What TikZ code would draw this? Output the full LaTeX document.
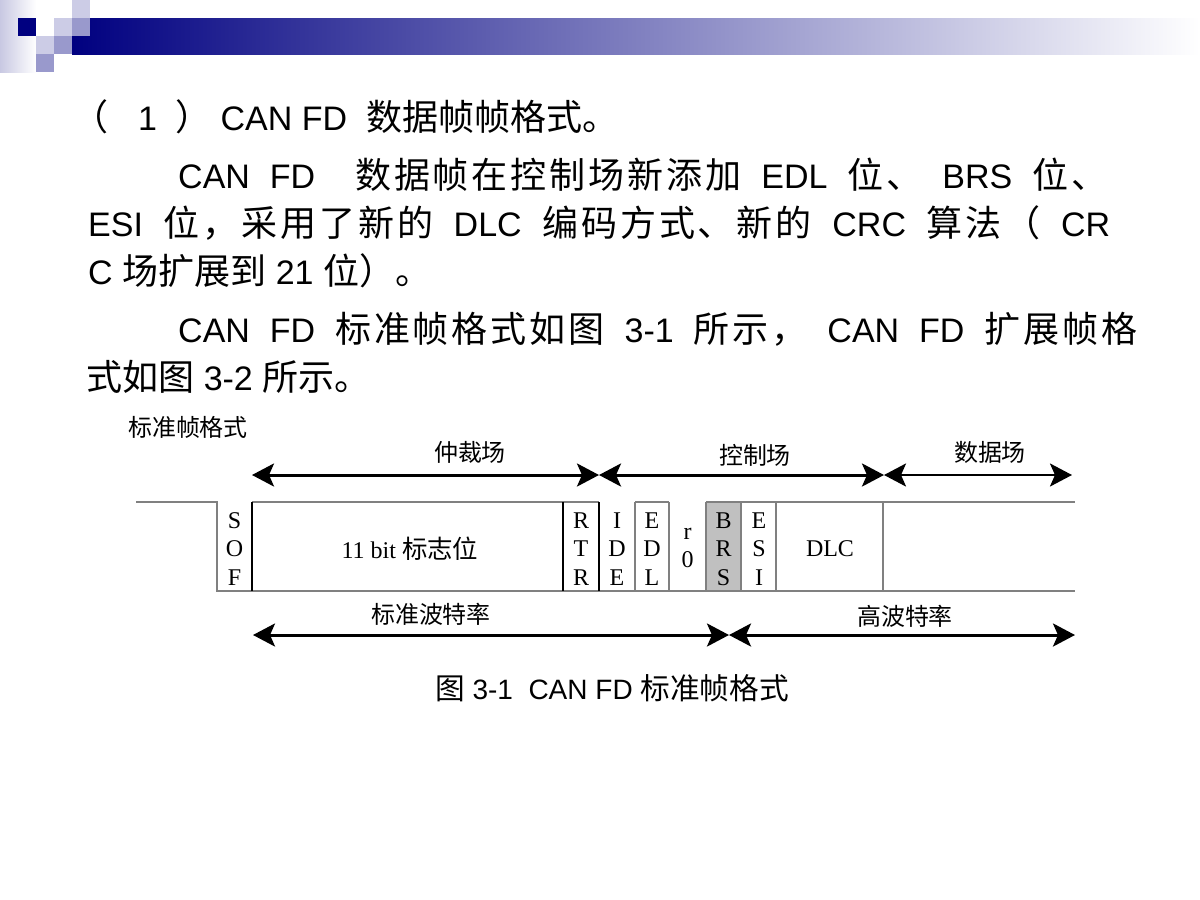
\documentclass[tikz,border=0pt]{standalone}
\usepackage{fontspec}
\setmainfont{Liberation Sans}
\newfontfamily\cjk[Scale=1.06]{Noto Sans CJK SC}
\newfontfamily\cjkwide[Scale=1.06,LetterSpace=8]{Noto Sans CJK SC}
\newfontfamily\tms{Liberation Serif}
\usetikzlibrary{arrows.meta}
\newcommand\zh[1]{{\cjk #1}}
\newcommand\zw[1]{{\cjkwide #1}}
\definecolor{navy}{RGB}{0,0,128}
\definecolor{lav}{RGB}{204,204,230}
\definecolor{mid}{RGB}{153,153,204}
\definecolor{strip}{RGB}{200,200,226}
\definecolor{brsgray}{RGB}{192,192,192}
\tikzset{
  txt/.style={anchor=west,inner sep=0pt,font=\fontsize{34}{40}\selectfont},
  wave/.style={draw=black!50,line width=2pt},
  divider/.style={draw=black,line width=1.5pt},
  cell/.style={inner sep=0pt,align=center,font=\tms\fontsize{24}{28.5}\selectfont},
  fieldlabel/.style={inner sep=0pt,font=\fontsize{22.6}{26}\selectfont\cjk},
  span/.style={<->,line width=3pt}
}
\begin{document}
\begin{tikzpicture}[x=1pt,y=-1pt,>={Stealth[length=22pt,width=23pt,inset=5pt]}]
		\useasboundingbox (0,0) rectangle (1200,900);
		% title bar
		\shade[left color=strip,right color=white] (0,0) rectangle (36,72);
		\shade[left color=navy,right color=white] (72,18) rectangle (1200,54);
		\fill[navy] (18,18) rectangle (36,36);
		\fill[lav] (72,0) rectangle (90,18);
		\fill[lav] (54,18) rectangle (72,36);
		\fill[mid] (72,18) rectangle (90,36);
		\fill[lav] (36,36) rectangle (54,54);
		\fill[mid] (54,36) rectangle (72,54);
		\fill[mid] (36,54) rectangle (54,72);
		% text
		\node[txt] (l1) at (72,117) {\zh{（}\hspace{30pt}1\hspace{18pt}\zh{）} CAN FD\ \ \zh{数据帧帧格式。}};
		\node[txt] (l2) at (178,175) {\makebox[929pt][s]{CAN FD\ \ \zw{数据帧在控制场新添加} EDL \zw{位、} BRS \zw{位、}}};
		\node[txt] (l3) at (88,223) {\makebox[1022pt][s]{ESI \zw{位，采用了新的} DLC \zw{编码方式、新的} CRC \zw{算法（} CR}};
		\node[txt] (l4) at (88,271) {C \zh{场扩展到} 21 \zh{位）。}};
		\node[txt] (l5) at (178,329) {\makebox[959pt][s]{CAN FD \zw{标准帧格式如图} 3-1 \zw{所示，} CAN FD \zw{扩展帧格}}};
		\node[txt] (l6) at (86,377) {\zh{式如图} 3-2 \zh{所示。}};
		\node[fieldlabel] (frm) at (188,427) {标准帧格式};
		% frame
		\fill[brsgray] (706,502) rectangle (741,591);
		\draw[wave] (136,502) -- (217,502) -- (217,591) -- (1075,591);
		\draw[wave] (252,502) -- (599,502);
		\draw[wave] (635,502) -- (669,502);
		\draw[wave] (706,502) -- (1075,502);
		\foreach \x in {635,669,706,741,776,883}
		\draw[wave] (\x,502) -- (\x,591);
		\foreach \x in {252,563,599}
		\draw[divider] (\x,502) -- (\x,591);
		\node[cell] (sof) at (234.5,549) {S\\O\\F};
		\node[cell] (id) at (410,549) {11 bit \zh{标志位}};
		\node[cell] (rtr) at (581,549) {R\\T\\R};
		\node[cell] (ide) at (617,549) {I\\D\\E};
		\node[cell] (edl) at (652,549) {E\\D\\L};
		\node[cell] (rzero) at (687.5,548) {r\\0};
		\node[cell] (brs) at (723.5,549) {B\\R\\S};
		\node[cell] (esi) at (759,549) {E\\S\\I};
		\node[cell] (dlc) at (830,549) {DLC};
		% fields
		\coordinate (a0) at (252,475);
		\coordinate (a1) at (599,475);
		\coordinate (a2) at (884,475);
		\coordinate (a3) at (1072,475);
		\draw[span] (a0) -- (a1);
		\draw[span] (a1) -- (a2);
		\draw[span,line width=2.5pt] (a2) -- (a3);
		\node[fieldlabel] (arb) at (470,452) {仲裁场};
		\node[fieldlabel] (ctrl) at (755,455) {控制场};
		\node[fieldlabel] (data) at (990,452) {数据场};
		% bit rates
		\coordinate (b0) at (253,635);
		\coordinate (b1) at (729,635);
		\coordinate (b2) at (1075,635);
		\draw[span] (b0) -- (b1);
		\draw[span] (b1) -- (b2);
		\node[fieldlabel] (slow) at (431,614) {标准波特率};
		\node[fieldlabel] (fast) at (905,616) {高波特率};
		\node[inner sep=0pt,font=\fontsize{28}{32}\selectfont] (cap) at (612,688) {\zh{图} 3-1\ \ CAN FD \zh{标准帧格式}};
\end{tikzpicture}
\end{document}
